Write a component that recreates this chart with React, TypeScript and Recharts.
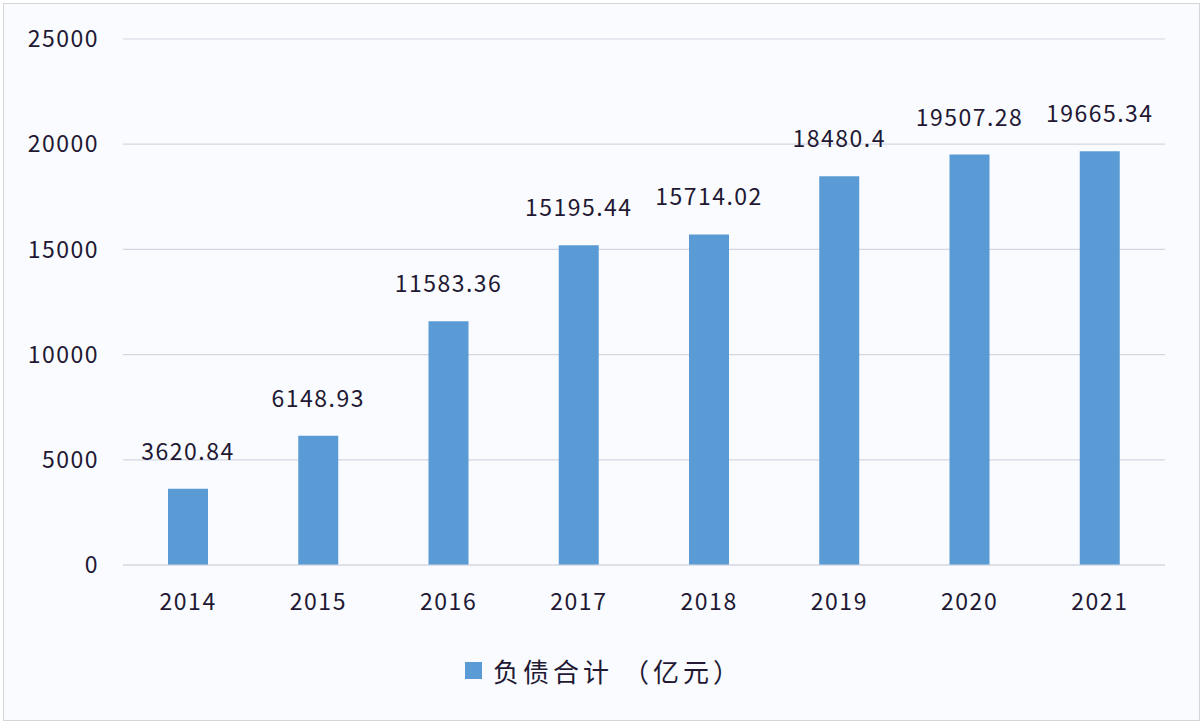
import React from 'react';
import { BarChart, Bar, XAxis, YAxis, CartesianGrid, LabelList, Legend } from 'recharts';

const years = ['2014', '2015', '2016', '2017', '2018', '2019', '2020', '2021'];
const liabilities = [3620.84, 6148.93, 11583.36, 15195.44, 15714.02, 18480.4, 19507.28, 19665.34];
const labels = ['3620.84', '6148.93', '11583.36', '15195.44', '15714.02', '18480.4', '19507.28', '19665.34'];
const yTicks = [0, 5000, 10000, 15000, 20000, 25000];
const seriesName = '负债合计 （亿元）';

const data = years.map((y, i) => ({ year: y, value: liabilities[i], label: labels[i] }));

const FONT = '"Noto Sans CJK SC", "Noto Sans", sans-serif';
const TEXT = '#221833';

const LegendContent = () => (
  <div style={{ display: 'flex', justifyContent: 'center', alignItems: 'center', fontFamily: FONT, color: TEXT, fontSize: 26, letterSpacing: 4, paddingLeft: 4 }}>
    <span style={{ display: 'inline-block', width: 17, height: 17, background: '#5b9bd5', marginRight: 11 }} />
    <span>{seriesName}</span>
  </div>
);

export default function App() {
  return (
    <div style={{ position: 'fixed', left: 0, top: 0, width: 1204, height: 724, background: '#ffffff' }}>
      <div style={{ position: 'absolute', left: 3, top: 3, width: 1195, height: 716, border: '1px solid #d4d6da', background: '#f9fbfe' }} />
      <div style={{ position: 'absolute', left: 0, top: 0 }}>
        <BarChart
          width={1204}
          height={724}
          data={data}
          margin={{ top: 39, right: 39, bottom: 39, left: 0 }}
          barCategoryGap={0}
        >
          <CartesianGrid vertical={false} stroke="#d3d7e1" strokeWidth={1.2} />
          <XAxis
            dataKey="year"
            axisLine={{ stroke: '#d3d7e1', strokeWidth: 1.2 }}
            tickLine={false}
            tickSize={0}
            tickMargin={29}
            height={80}
            tick={{ fill: TEXT, fontSize: 23, fontFamily: FONT, letterSpacing: 1.5 }}
          />
          <YAxis
            domain={[0, 25000]}
            ticks={yTicks}
            axisLine={false}
            tickLine={false}
            tickSize={0}
            tickMargin={24}
            width={123}
            tick={{ fill: TEXT, fontSize: 23, fontFamily: FONT, letterSpacing: 1.5 }}
          />
          <Legend
            verticalAlign="bottom"
            content={<LegendContent />}
            wrapperStyle={{ position: 'absolute', top: 652, left: 0, width: 1204, height: 40 }}
          />
          <Bar dataKey="value" name={seriesName} fill="#5b9bd5" barSize={40} isAnimationActive={false}>
            <LabelList
              dataKey="label"
              position="top"
              offset={29}
              style={{ fill: TEXT, fontSize: 23, fontFamily: FONT, letterSpacing: 1.5 }}
            />
          </Bar>
        </BarChart>
      </div>
    </div>
  );
}
